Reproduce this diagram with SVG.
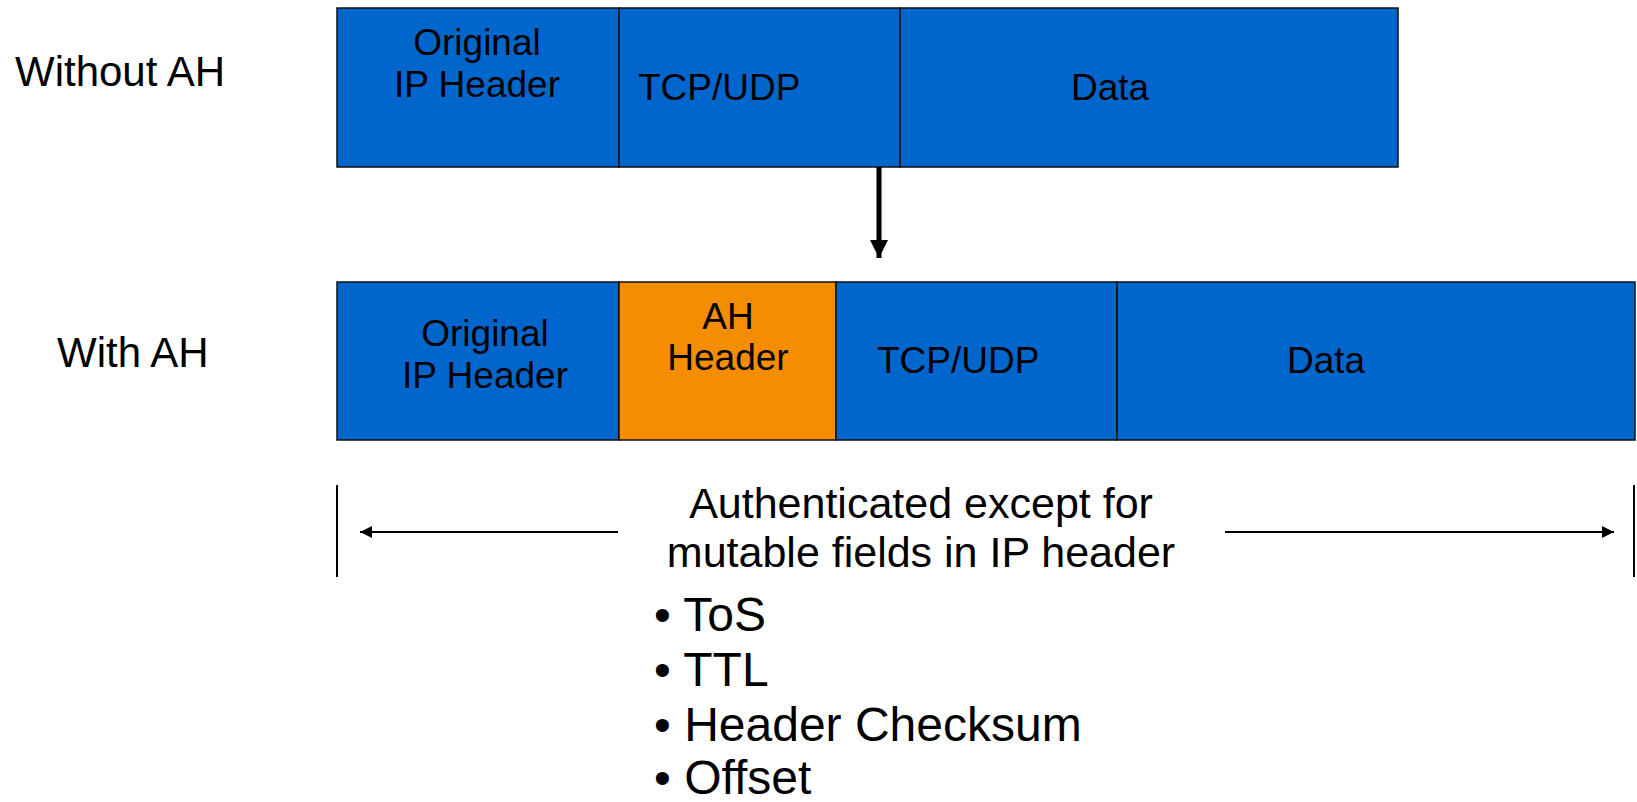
<svg xmlns="http://www.w3.org/2000/svg" width="1637" height="802" viewBox="0 0 1637 802">
<style>
text{font-family:"Liberation Sans",Arial,sans-serif;fill:#000}
.cell{fill:#0066CC;stroke:#111;stroke-width:1.5}
.ah{fill:#F58D00;stroke:#111;stroke-width:1.5}
.lbl{font-size:42px}
.box{font-size:37px}
.mid{text-anchor:middle}
.note{font-size:43px;text-anchor:middle}
.bul{font-size:48px}
.ln{stroke:#000;stroke-width:2;fill:none}
</style>
<defs>
<marker id="big" viewBox="0 0 10 10" refX="10" refY="5" markerWidth="3.6" markerHeight="3.6" orient="auto" markerUnits="strokeWidth"><path d="M0,0L10,5L0,10z" fill="#000"/></marker>
<marker id="sm" viewBox="0 0 10 10" refX="10" refY="5" markerWidth="7.5" markerHeight="6" orient="auto" markerUnits="strokeWidth"><path d="M0,0L10,5L0,10z" fill="#000"/></marker>
</defs>
<g id="label-without"><text class="lbl" x="15" y="86">Without AH</text></g>
<g id="label-with"><text class="lbl" x="57" y="367">With AH</text></g>
<g id="row1">
<g id="r1-ip"><rect class="cell" x="337" y="8" width="282" height="159"/><text class="box mid" x="477" y="55">Original</text><text class="box mid" x="477" y="97">IP Header</text></g>
<g id="r1-tcp"><rect class="cell" x="619" y="8" width="281" height="159"/><text class="box" x="638" y="100">TCP/UDP</text></g>
<g id="r1-data"><rect class="cell" x="900" y="8" width="498" height="159"/><text class="box mid" x="1110" y="100">Data</text></g>
</g>
<g id="row2">
<g id="r2-ip"><rect class="cell" x="337" y="282" width="282" height="158"/><text class="box mid" x="485" y="346">Original</text><text class="box mid" x="485" y="388">IP Header</text></g>
<g id="r2-ah"><rect class="ah" x="619" y="282" width="217" height="158"/><text class="box mid" x="728" y="329">AH</text><text class="box mid" x="728" y="370">Header</text></g>
<g id="r2-tcp"><rect class="cell" x="836" y="282" width="281" height="158"/><text class="box" x="877" y="373">TCP/UDP</text></g>
<g id="r2-data"><rect class="cell" x="1117" y="282" width="518" height="158"/><text class="box mid" x="1326" y="373">Data</text></g>
</g>
<g id="connectors">
<line x1="879" y1="167" x2="879" y2="258" stroke="#000" stroke-width="5" marker-end="url(#big)"/>
<line class="ln" x1="337" y1="485" x2="337" y2="577"/>
<line class="ln" x1="1634" y1="485" x2="1634" y2="577"/>
<line class="ln" x1="618" y1="532" x2="360" y2="532" marker-end="url(#sm)"/>
<line class="ln" x1="1225" y1="532" x2="1614" y2="532" marker-end="url(#sm)"/>
</g>
<g id="note">
<text class="note" x="921" y="518">Authenticated except for</text>
<text class="note" x="921" y="567">mutable fields in IP header</text>
<text class="bul" x="654" y="631">• ToS</text>
<text class="bul" x="654" y="686">• TTL</text>
<text class="bul" x="654" y="741">• Header Checksum</text>
<text class="bul" x="654" y="794">• Offset</text>
</g>
</svg>
